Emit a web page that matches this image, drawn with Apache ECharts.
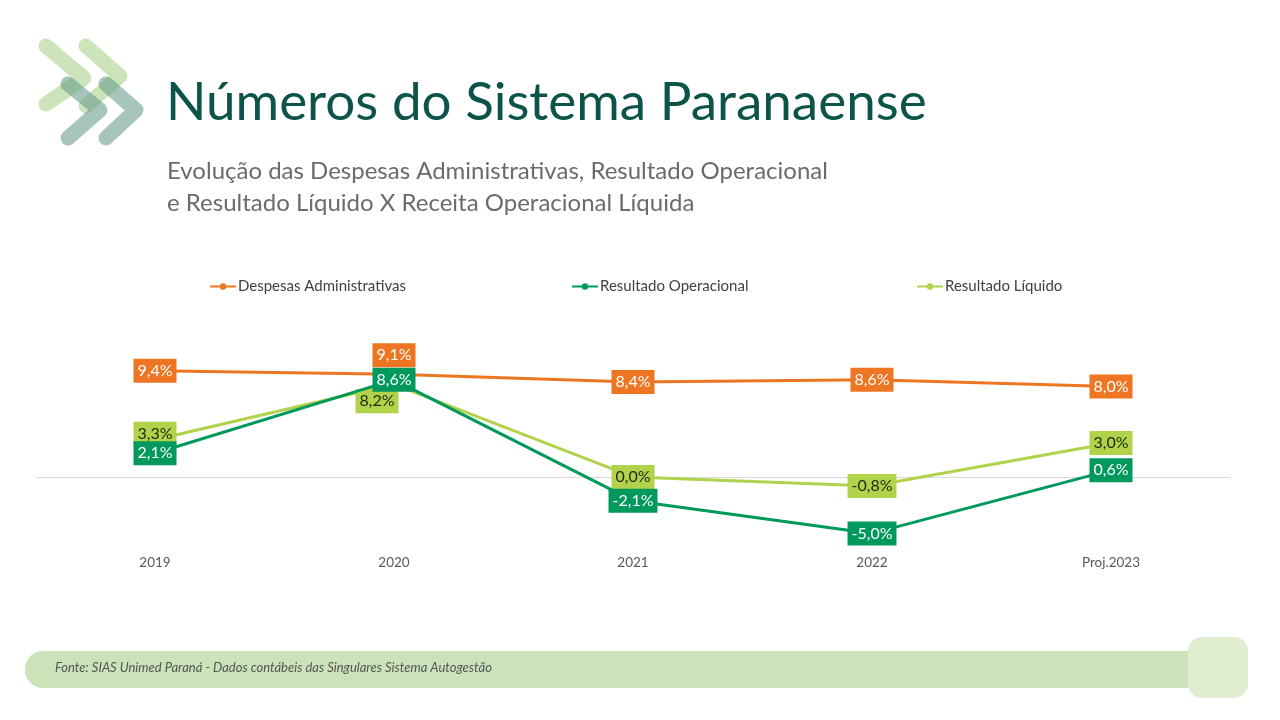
<!DOCTYPE html>
<html><head><meta charset="utf-8">
<script src="https://cdn.jsdelivr.net/npm/echarts@6/dist/echarts.min.js"></script>
<style>html,body{margin:0;padding:0;background:#fff}#c{width:1280px;height:720px}</style>
</head><body><div id="c"></div>
<script>
const categories = ['2019','2020','2021','2022','Proj.2023'];
const despesasAdm = [9.4, 9.1, 8.4, 8.6, 8.0];
const resultadoOper = [2.1, 8.6, -2.1, -5.0, 0.6];
const resultadoLiq = [3.3, 8.2, 0.0, -0.8, 3.0];
const seriesNames = ['Despesas Administrativas','Resultado Operacional','Resultado Líquido'];

const ORANGE = '#ee7623', DGREEN = '#00995d', LGREEN = '#b1d34b';
const FONT = 'Lato, "Open Sans", sans-serif';
const fmt = p => p.value.toFixed(1).replace('.', ',') + '%';

function labelCfg(bg, fg){
  return {show:true, position:'inside', formatter:fmt, backgroundColor:bg, color:fg,
    fontFamily:FONT, fontSize:16, padding:[3,4,2,4], lineHeight:19};
}
function mk(vals, offsets){
  return vals.map((v,i)=> offsets[i] ? {value:v, label:{offset:offsets[i]}} : v);
}
function legendAt(name, left){
  return {top:279, left:left, itemWidth:26, itemHeight:8, padding:0,
    textStyle:{fontFamily:FONT, fontSize:15, color:'#404040', padding:[0,0,0,-3]}, data:[name]};
}

const chart = echarts.init(document.getElementById('c'), null, {renderer:'canvas'});
function chev(pts, color, op){
  return {type:'polyline', shape:{points:pts}, silent:true,
    style:{stroke:color, lineWidth:15, lineCap:'round', lineJoin:'round', fill:null, opacity:op}};
}
chart.setOption({
  backgroundColor:'#ffffff',
  animation:false,
  title:[
    {text:'Números do Sistema Paranaense', left:166, top:76, padding:0,
      textStyle:{fontFamily:FONT, fontSize:53, fontWeight:'normal', color:'#0c5449'}},
    {text:'Evolução das Despesas Administrativas, Resultado Operacional\ne Resultado Líquido X Receita Operacional Líquida', left:167, top:155, padding:0,
      textStyle:{fontFamily:FONT, fontSize:24, fontWeight:'normal', color:'#6b6b6b', lineHeight:32}}
  ],
  legend:[legendAt(seriesNames[0],209), legendAt(seriesNames[1],571), legendAt(seriesNames[2],916)],
  grid:{left:35.5, right:49.5, top:364, bottom:175.3},
  xAxis:{type:'category', data:categories, boundaryGap:true,
    axisLine:{show:false, onZero:false}, axisTick:{show:false},
    axisLabel:{color:'#595959', fontFamily:FONT, fontSize:13.5, margin:11}},
  yAxis:{type:'value', min:-6, max:10, show:false, splitLine:{show:false}},
  graphic:[
    chev([[46,46],[84,78],[46,104]], '#b8d89c', 0.7),
    chev([[86,46],[120,76],[86,106]], '#b8d89c', 0.7),
    chev([[68,84],[100,110],[68,138]], '#5f9585', 0.55),
    chev([[106,84],[136,110],[106,138]], '#5f9585', 0.55),
    {type:'rect', shape:{x:25, y:651, width:1190, height:37, r:18}, silent:true, style:{fill:'#cae3b9'}},
    {type:'rect', shape:{x:1188, y:637, width:60, height:61, r:14}, silent:true, style:{fill:'#e0edd0'}},
    {type:'text', left:55, top:661, silent:true,
      style:{text:'Fonte: SIAS Unimed Paraná - Dados contábeis das Singulares Sistema Autogestão',
        font:'italic 13px Lato, sans-serif', fill:'#555'}}
  ],
  series:[
    {name:seriesNames[0], type:'line', data:mk(despesasAdm,[null,[0,-19],null,null,null]),
      color:ORANGE, lineStyle:{width:3}, symbol:'circle', symbolSize:5,
      label:labelCfg(ORANGE,'#fff'), z:3,
      markLine:{silent:true, symbol:['none','none'], label:{show:false},
        lineStyle:{color:'#d9d9d9', width:1, type:'solid'}, data:[{yAxis:0}], z:1}},
    {name:seriesNames[1], type:'line', data:resultadoOper,
      color:DGREEN, lineStyle:{width:3}, symbol:'circle', symbolSize:5,
      label:labelCfg(DGREEN,'#fff'), z:5},
    {name:seriesNames[2], type:'line', data:mk(resultadoLiq,[[0,-6],[-17,17],null,null,null]),
      color:LGREEN, lineStyle:{width:3}, symbol:'circle', symbolSize:5,
      label:labelCfg(LGREEN,'#1e2a10'), z:4}
  ]
});
</script></body></html>
